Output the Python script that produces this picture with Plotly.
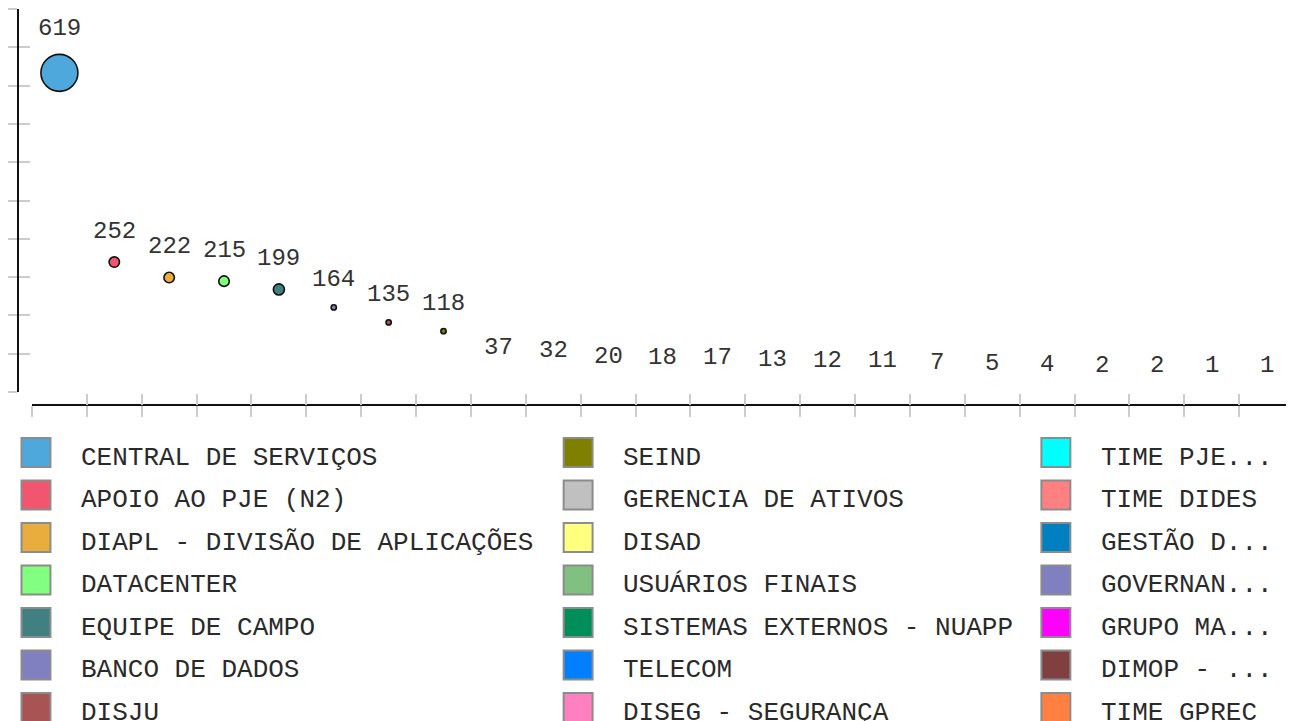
import plotly.graph_objects as go

# ---------------- data ----------------
categories = [
    "CENTRAL DE SERVIÇOS", "APOIO AO PJE (N2)", "DIAPL - DIVISÃO DE APLICAÇÕES",
    "DATACENTER", "EQUIPE DE CAMPO", "BANCO DE DADOS", "DISJU",
    "SEIND", "GERENCIA DE ATIVOS", "DISAD", "USUÁRIOS FINAIS",
    "SISTEMAS EXTERNOS - NUAPP", "TELECOM", "DISEG - SEGURANÇA",
    "TIME PJE...", "TIME DIDES", "GESTÃO D...", "GOVERNAN...", "GRUPO MA...",
    "DIMOP - ...", "TIME GPREC", "", "",
]
values = [619, 252, 222, 215, 199, 164, 135, 118, 37, 32, 20, 18, 17, 13, 12,
          11, 7, 5, 4, 2, 2, 1, 1]
bubble_weight = [100, 8, 8, 8, 9, 2, 2, 2, 0, 0, 0, 0, 0, 0, 0,
                 0, 0, 0, 0, 0, 0, 0, 0]
colors = [
    "#4FA8DC", "#F2566E", "#E8AD3C", "#80FF80", "#408080", "#8080C0", "#A85454",
    "#808000", "#C0C0C0", "#FFFF80", "#80C080", "#008F5A", "#0080FF", "#FF80C0",
    "#00FFFF", "#FF8080", "#0080C0", "#8080C0", "#FF00FF", "#804040", "#FF8040",
    "#408000", "#800080",
]

# ---------------- layout constants ----------------
PAGE_OFF = 8                 # default body margin of the html page
W, H = 1294 - PAGE_OFF, 721 - PAGE_OFF
ML, MT, MB = 16 - PAGE_OFF, 9 - PAGE_OFF, 316
PW, PH = W - ML, H - MT - MB
FONT = "Liberation Mono, Courier New, monospace"


def px_x(p):
    """page pixel x -> paper coordinate"""
    return (p - PAGE_OFF - ML) / PW


def px_y(p):
    """page pixel y -> paper coordinate"""
    return (H - MB - (p - PAGE_OFF)) / PH


n = len(values)
x_idx = list(range(n))
ymax = 1.2 * max(values)
max_diam = 37.0
sizeref = 2.0 * max(bubble_weight) / max_diam ** 2
diam = [(2.0 * w / sizeref) ** 0.5 for w in bubble_weight]

fig = go.Figure()
fig.add_trace(go.Scatter(
    x=x_idx, y=values, mode="markers",
    marker=dict(size=bubble_weight, sizemode="area", sizeref=sizeref, sizemin=0,
                color=colors[:n],
                line=dict(color="#111111", width=[1.6 if w > 0 else 0 for w in bubble_weight]),
                opacity=1),
    text=categories, hoverinfo="text+y",
    cliponaxis=False, showlegend=False,
))
# dummy trace to create the overlay axes used for the crossing tick marks
fig.add_trace(go.Scatter(x=[None], y=[None], xaxis="x2", yaxis="y2",
                         showlegend=False, hoverinfo="skip"))

# value labels above points
annotations = []
for i, v in enumerate(values):
    annotations.append(dict(
        x=i, y=v, xref="x", yref="y", text=str(v), showarrow=False,
        xanchor="center", yanchor="middle", yshift=diam[i] / 2 + 25.5,
        font=dict(family=FONT, size=24, color="#333333"),
    ))

# legend drawn as swatches + text (3 visible columns of 7 rows)
col_swatch_cx = [34, 577, 1055.5]
row_y0, row_pitch, sw = 452.5, 42.5, 29
shapes = []
rows_per_col = 7
for i, name in enumerate(categories):
    c, r = divmod(i, rows_per_col)
    if c >= len(col_swatch_cx) or not name:
        continue
    cx = col_swatch_cx[c]
    cy = row_y0 + r * row_pitch
    shapes.append(dict(
        type="rect", xref="paper", yref="paper",
        x0=px_x(cx - sw / 2), x1=px_x(cx + sw / 2),
        y0=px_y(cy + sw / 2), y1=px_y(cy - sw / 2),
        fillcolor=colors[i], line=dict(color="#8C8C8C", width=2),
    ))
    annotations.append(dict(
        x=px_x(cx + 43), y=px_y(cy + 5), xref="paper", yref="paper",
        text=name, showarrow=False, xanchor="left", yanchor="middle",
        font=dict(family=FONT, size=26, color="#2A2A2A"),
    ))

xticks = [i - 0.5 for i in x_idx]
yticks = [ymax * k / 10 for k in range(11)]
xdom = [px_x(30), 1]
ydom = [px_y(392), 1]

common_x = dict(domain=xdom, range=[-0.5, n - 0.5], tickmode="array", tickvals=xticks,
                showticklabels=False, showgrid=False, zeroline=False,
                tickcolor="#CCCCCC", tickwidth=2, ticklen=11, anchor="free", position=0)
common_y = dict(domain=ydom, range=[0, ymax], tickmode="array", tickvals=yticks,
                showticklabels=False, showgrid=False, zeroline=False,
                tickcolor="#CCCCCC", tickwidth=2, anchor="free", position=0)

fig.update_layout(
    width=W, height=H,
    margin=dict(l=ML, r=0, t=MT, b=MB, pad=0),
    paper_bgcolor="white", plot_bgcolor="white",
    xaxis=dict(**common_x, ticks="outside", showline=True, linecolor="#111111", linewidth=2),
    yaxis=dict(**common_y, ticks="outside", ticklen=10, showline=True,
               linecolor="#111111", linewidth=2),
    xaxis2=dict(**common_x, overlaying="x", ticks="inside", showline=False),
    yaxis2=dict(**common_y, overlaying="y", ticks="inside", ticklen=11, showline=False),
    shapes=shapes,
    annotations=annotations,
    showlegend=False,
)

fig.write_html("out.html")
